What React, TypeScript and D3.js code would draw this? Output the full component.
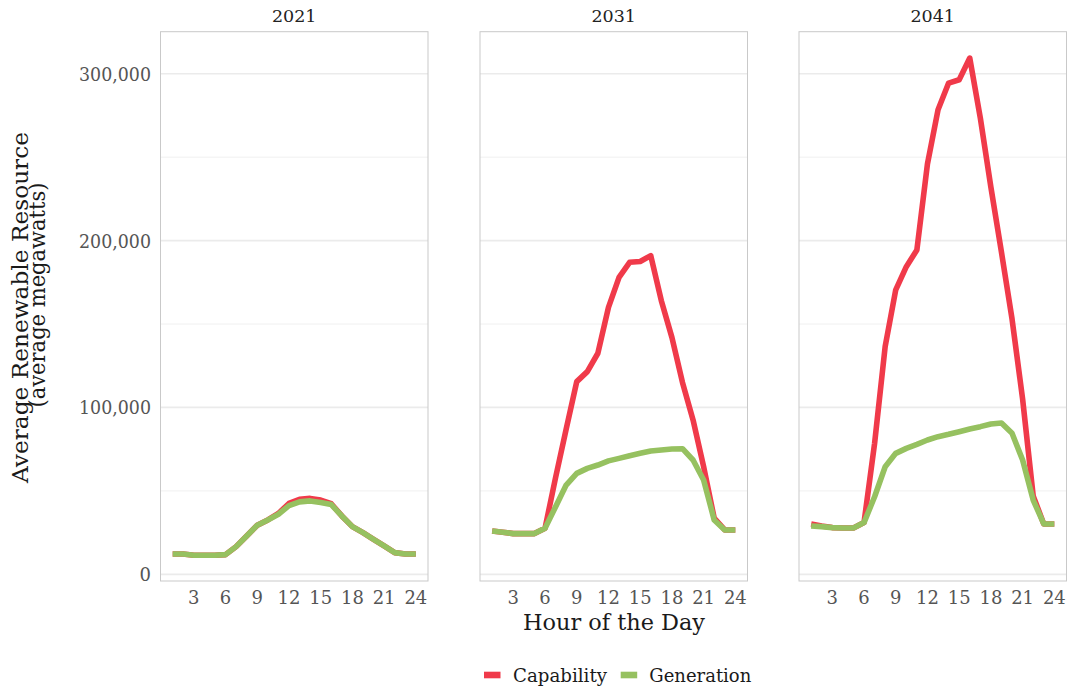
import React from "react";
import * as d3 from "d3";

const hours = [1, 2, 3, 4, 5, 6, 7, 8, 9, 10, 11, 12, 13, 14, 15, 16, 17, 18, 19, 20, 21, 22, 23, 24];
const years = ["2021", "2031", "2041"];
const seriesNames = ["Capability", "Generation"];
const seriesColors = ["#F03A4A", "#96C160"];

const capability2021 = [12200, 12200, 11400, 11400, 11400, 11800, 16600, 23000, 29400, 32600, 36500, 42500, 45000, 45500, 44500, 42300, 35000, 28600, 25000, 21000, 17000, 13000, 12200, 12200];
const generation2021 = [12200, 12200, 11400, 11400, 11400, 11800, 16600, 23000, 29400, 32600, 36000, 41200, 43400, 44000, 43100, 41800, 35000, 28600, 25000, 21000, 17000, 13000, 12200, 12200];
const capability2031 = [26000, 25200, 24400, 24400, 24400, 27600, 58000, 87000, 115500, 121500, 132500, 160000, 178000, 187000, 187500, 191000, 164000, 142000, 115000, 92500, 64500, 33700, 26600, 26600];
const generation2031 = [26000, 25200, 24400, 24400, 24400, 27600, 40500, 53500, 60500, 63500, 65500, 68000, 69500, 71100, 72500, 73900, 74500, 75100, 75300, 68500, 56500, 32600, 26600, 26600];
const capability2041 = [30200, 29000, 28000, 27800, 27800, 31000, 78500, 136500, 170500, 184400, 194400, 246000, 278400, 294400, 296400, 309400, 273500, 232000, 193000, 153000, 105000, 47000, 30200, 30200];
const generation2041 = [29000, 28600, 28000, 27800, 27800, 31000, 46500, 64500, 72500, 75500, 77900, 80500, 82500, 83900, 85500, 87100, 88500, 90100, 90700, 84500, 68500, 44500, 30200, 30200];

const capabilityByYear = [capability2021, capability2031, capability2041];
const generationByYear = [generation2021, generation2031, generation2041];

const xTicks = [3, 6, 9, 12, 15, 18, 21, 24];
const yMajorTicks = [0, 100000, 200000, 300000];
const yMinorTicks = [50000, 150000, 250000];

const FONT = "'Roboto Slab', 'DejaVu Serif', serif";

export default function App() {
  const W = 1068;
  const H = 688;
  const panelLefts = [160.5, 480, 799];
  const panelW = 267.5;
  const top = 31.7;
  const bottom = 581;

  const y = d3.scaleLinear().domain([-4000, 325200]).range([bottom, top]);
  const fmt = d3.format(",");

  return (
    <svg
      width={W}
      height={H}
      style={{ position: "absolute", left: 0, top: 0, display: "block", background: "#fff" }}
      fontFamily={FONT}
    >
      <rect x={0} y={0} width={W} height={H} fill="#fff" />
      {years.map((yr, i) => {
        const x = d3
          .scaleLinear()
          .domain([-0.15, 25.15])
          .range([panelLefts[i], panelLefts[i] + panelW]);
        const line = d3
          .line<number>()
          .x((_, k) => x(hours[k]))
          .y((v) => y(v));
        const series = [capabilityByYear[i], generationByYear[i]];
        return (
          <g key={yr}>
            <text
              x={panelLefts[i] + panelW / 2}
              y={21.7}
              textAnchor="middle"
              fontSize={17.5}
              fill="#222"
            >
              {yr}
            </text>
            {yMinorTicks.map((t) => (
              <line
                key={"mi" + t}
                x1={panelLefts[i]}
                x2={panelLefts[i] + panelW}
                y1={y(t)}
                y2={y(t)}
                stroke="#eeeeee"
                strokeWidth={0.9}
              />
            ))}
            {yMajorTicks.map((t) => (
              <line
                key={"ma" + t}
                x1={panelLefts[i]}
                x2={panelLefts[i] + panelW}
                y1={y(t)}
                y2={y(t)}
                stroke="#ebebeb"
                strokeWidth={1.7}
              />
            ))}
            {series.map((vals, s) => (
              <path
                key={seriesNames[s]}
                d={line(vals) || ""}
                fill="none"
                stroke={seriesColors[s]}
                strokeWidth={5.6}
                strokeLinejoin="round"
                strokeLinecap="butt"
              />
            ))}
            <rect
              x={panelLefts[i]}
              y={top}
              width={panelW}
              height={bottom - top}
              fill="none"
              stroke="#c9c9c9"
              strokeWidth={1}
            />
            {xTicks.map((t) => (
              <text
                key={"xt" + t}
                x={x(t)}
                y={604}
                textAnchor="middle"
                fontSize={18}
                fill="#555"
              >
                {t}
              </text>
            ))}
          </g>
        );
      })}
      {yMajorTicks.map((t) => (
        <text
          key={"yt" + t}
          x={151}
          y={y(t) + 7}
          textAnchor="end"
          fontSize={18}
          fill="#555"
          textLength={t === 0 ? undefined : 72}
          lengthAdjust="spacingAndGlyphs"
        >
          {fmt(t)}
        </text>
      ))}
      <text
        x={614}
        y={630}
        textAnchor="middle"
        fontSize={23}
        fill="#1a1a1a"
        textLength={182}
        lengthAdjust="spacingAndGlyphs"
      >
        Hour of the Day
      </text>
      <text
        transform="translate(28,307.5) rotate(-90)"
        textAnchor="middle"
        fontSize={23}
        fill="#1a1a1a"
        textLength={351}
        lengthAdjust="spacingAndGlyphs"
      >
        Average Renewable Resource
      </text>
      <text
        transform="translate(45,295) rotate(-90)"
        textAnchor="middle"
        fontSize={23}
        fill="#1a1a1a"
        textLength={225}
        lengthAdjust="spacingAndGlyphs"
      >
        (average megawatts)
      </text>
      {seriesNames.map((name, s) => {
        const keyX = [484, 620.7][s];
        const textX = [513, 649.3][s];
        const tl = [94, 102][s];
        return (
          <g key={"lg" + name}>
            <rect x={keyX} y={671.7} width={16.5} height={6.6} fill={seriesColors[s]} />
            <text
              x={textX}
              y={682}
              fontSize={18.5}
              fill="#1a1a1a"
              textLength={tl}
              lengthAdjust="spacingAndGlyphs"
            >
              {name}
            </text>
          </g>
        );
      })}
    </svg>
  );
}
